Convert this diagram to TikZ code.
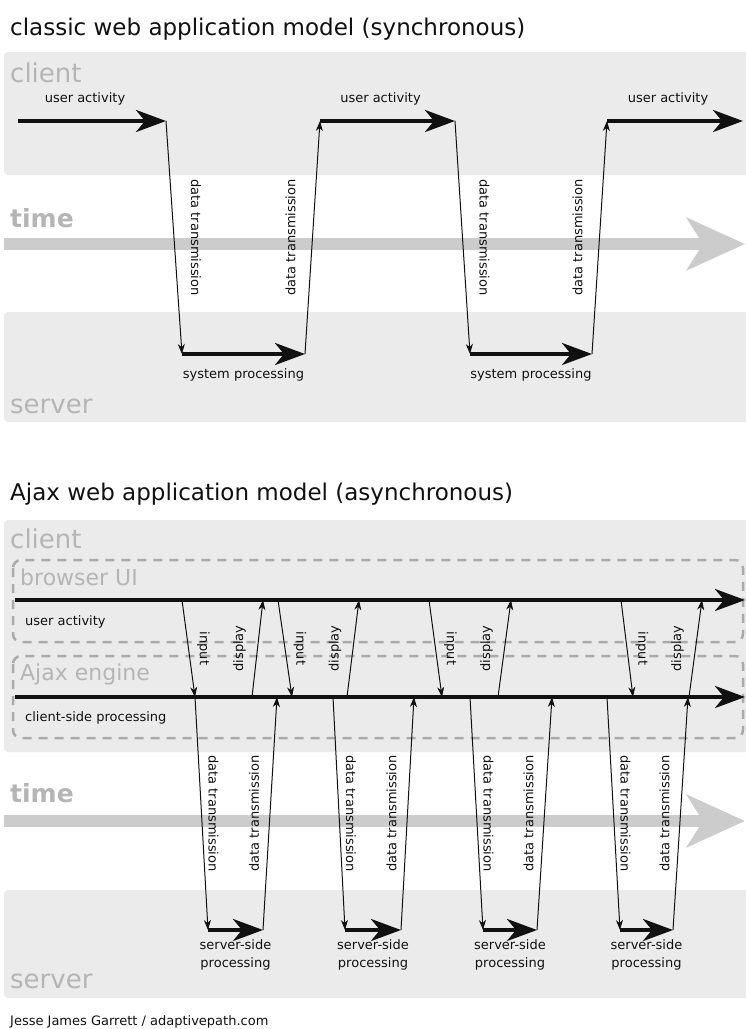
\documentclass[tikz,border=0pt]{standalone}
\usepackage{fontspec}
\setmainfont{DejaVu Sans}
\usetikzlibrary{arrows.meta}
\definecolor{Ink}{HTML}{111111}
\definecolor{Band}{HTML}{EBEBEB}
\definecolor{Lane}{HTML}{B5B5B5}
\definecolor{Bar}{HTML}{CCCCCC}
\definecolor{Dash}{HTML}{AAAAAA}
\tikzset{
  band/.style={fill=Band,rounded corners=4pt},
  title/.style={font=\fontsize{23}{23}\selectfont,text=Ink,anchor=base west,inner sep=0pt},
  lane/.style={font=\fontsize{26}{26}\selectfont,text=Lane,anchor=base west,inner sep=0pt},
  sublane/.style={lane,font=\fontsize{22}{22}\selectfont},
  timelab/.style={lane,font=\fontsize{25}{25}\selectfont\bfseries},
  small/.style={font=\fontsize{13}{18}\selectfont,text=Ink,inner sep=0pt},
  downlab/.style={small,midway,xshift=#1,rotate=-90},
  downlab/.default=22pt,
  uplab/.style={small,midway,xshift=-#1,rotate=90},
  uplab/.default=22pt,
  flow/.style={-{Stealth[length=30pt,width=22pt,inset=9pt]},line width=4pt,draw=Ink},
  msg/.style={-{Stealth[length=10pt,width=7pt,inset=3pt]},line width=1pt,draw=Ink},
  timebar/.style={-{Stealth[length=58pt,width=52pt,inset=16pt]},line width=12pt,draw=Bar},
  layer/.style={draw=Dash,dash pattern=on 9pt off 7pt,line width=2.5pt,rounded corners=8pt}
}
\begin{document}
\begin{tikzpicture}[x=1pt,y=-1pt]
  \useasboundingbox (0,0) rectangle (745,1029);
  % classic model
  \node[title] (classic) at (10,35) {classic web application model (synchronous)};
  \fill[band] (4,52) rectangle (752,175);
  \fill[band] (4,312) rectangle (752,422);
  \node[lane] (client1) at (10,82) {client};
  \node[timelab] (time1) at (10,227) {time};
  \node[lane] (server1) at (10,413) {server};
  \coordinate (t1a) at (4,244); \coordinate (t1b) at (745,244);
  \draw[timebar] (t1a)--(t1b);

  \coordinate (u0) at (18,121); \coordinate (u1) at (166,121);
  \coordinate (s1a) at (182,354); \coordinate (s1b) at (305,354);
  \coordinate (u2) at (320,121); \coordinate (u3) at (455,121);
  \coordinate (s2a) at (470,354); \coordinate (s2b) at (592,354);
  \coordinate (u4) at (607,121); \coordinate (u5) at (743,121);
  \draw[flow] (u0)--node[small,above=14pt,xshift=-7pt] (ua1) {user activity}(u1);
  \draw[msg] (u1)--node[downlab] (dt1) {data transmission}(s1a);
  \draw[flow] (s1a)--node[small,below=13pt] (sp1) {system processing}(s1b);
  \draw[msg] (s1b)--node[uplab] (dt2) {data transmission}(u2);
  \draw[flow] (u2)--node[small,above=14pt,xshift=-7pt] (ua2) {user activity}(u3);
  \draw[msg] (u3)--node[downlab] (dt3) {data transmission}(s2a);
  \draw[flow] (s2a)--node[small,below=13pt] (sp2) {system processing}(s2b);
  \draw[msg] (s2b)--node[uplab] (dt4) {data transmission}(u4);
  \draw[flow] (u4)--node[small,above=14pt,xshift=-7pt] (ua3) {user activity}(u5);

  % ajax model
  \node[title] (ajax) at (10,500) {Ajax web application model (asynchronous)};
  \fill[band] (4,520) rectangle (752,752);
  \fill[band] (4,890) rectangle (752,998);
  \node[lane] (client2) at (10,548) {client};
  \node[timelab] (time2) at (10,802) {time};
  \node[lane] (server2) at (10,988) {server};
  \coordinate (t2a) at (4,821); \coordinate (t2b) at (745,821);
  \draw[timebar] (t2a)--(t2b);
  \draw[layer] (13,560) rectangle (743,642);
  \draw[layer] (13,656) rectangle (743,738);
  \node[sublane] (ui) at (20,585) {browser UI};
  \node[sublane] (engine) at (20,680) {Ajax engine};
  \node[small,anchor=base west] (ua4) at (25,625) {user activity};
  \node[small,anchor=base west] (csp) at (25,721) {client-side processing};

  \coordinate (b0) at (15,600); \coordinate (b1) at (745,600);
  \coordinate (e0) at (15,697); \coordinate (e1) at (745,697);
  \draw[flow] (b0)--(b1);
  \draw[flow] (e0)--(e1);

  % input / display
  \coordinate (i1a) at (182,600); \coordinate (i1b) at (195,697);
  \coordinate (d1a) at (252,697); \coordinate (d1b) at (263,600);
  \coordinate (i2a) at (278,600); \coordinate (i2b) at (292,697);
  \coordinate (d2a) at (347,697); \coordinate (d2b) at (359,600);
  \coordinate (i3a) at (429,600); \coordinate (i3b) at (442,697);
  \coordinate (d3a) at (498,697); \coordinate (d3b) at (511,600);
  \coordinate (i4a) at (621,600); \coordinate (i4b) at (633,697);
  \coordinate (d4a) at (689,697); \coordinate (d4b) at (702,600);
  \draw[msg] (i1a)--node[downlab=15pt] (in1) {input}(i1b);
  \draw[msg] (d1a)--node[uplab=18pt] (di1) {display}(d1b);
  \draw[msg] (i2a)--node[downlab=15pt] (in2) {input}(i2b);
  \draw[msg] (d2a)--node[uplab=18pt] (di2) {display}(d2b);
  \draw[msg] (i3a)--node[downlab=15pt] (in3) {input}(i3b);
  \draw[msg] (d3a)--node[uplab=18pt] (di3) {display}(d3b);
  \draw[msg] (i4a)--node[downlab=15pt] (in4) {input}(i4b);
  \draw[msg] (d4a)--node[uplab=18pt] (di4) {display}(d4b);

  % server round trips
  \coordinate (n1a) at (195,697); \coordinate (n1b) at (208,930);
  \coordinate (n1c) at (263,930); \coordinate (n1d) at (277,697);
  \coordinate (n2a) at (333,697); \coordinate (n2b) at (345,930);
  \coordinate (n2c) at (401,930); \coordinate (n2d) at (414,697);
  \coordinate (n3a) at (470,697); \coordinate (n3b) at (483,930);
  \coordinate (n3c) at (537,930); \coordinate (n3d) at (552,697);
  \coordinate (n4a) at (607,697); \coordinate (n4b) at (620,930);
  \coordinate (n4c) at (673,930); \coordinate (n4d) at (688,697);
  \draw[msg] (n1a)--node[downlab=12pt] (dn1) {data transmission}(n1b);
  \draw[flow] (n1b)--node[small,below=8pt,align=center] (ss1) {server-side\\processing}(n1c);
  \draw[msg] (n1c)--node[uplab=16pt] (up1) {data transmission}(n1d);
  \draw[msg] (n2a)--node[downlab=12pt] (dn2) {data transmission}(n2b);
  \draw[flow] (n2b)--node[small,below=8pt,align=center] (ss2) {server-side\\processing}(n2c);
  \draw[msg] (n2c)--node[uplab=16pt] (up2) {data transmission}(n2d);
  \draw[msg] (n3a)--node[downlab=12pt] (dn3) {data transmission}(n3b);
  \draw[flow] (n3b)--node[small,below=8pt,align=center] (ss3) {server-side\\processing}(n3c);
  \draw[msg] (n3c)--node[uplab=16pt] (up3) {data transmission}(n3d);
  \draw[msg] (n4a)--node[downlab=12pt] (dn4) {data transmission}(n4b);
  \draw[flow] (n4b)--node[small,below=8pt,align=center] (ss4) {server-side\\processing}(n4c);
  \draw[msg] (n4c)--node[uplab=16pt] (up4) {data transmission}(n4d);

  \node[small,anchor=base west] (credit) at (10,1025) {Jesse James Garrett / adaptivepath.com};
\end{tikzpicture}
\end{document}
